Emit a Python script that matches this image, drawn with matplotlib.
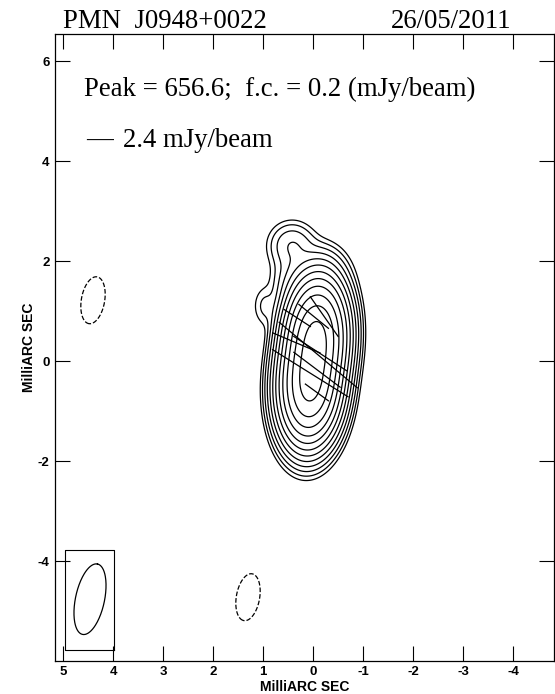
import numpy as np
import matplotlib
matplotlib.use("Agg")
import matplotlib.pyplot as plt

plt.rcParams["axes.unicode_minus"] = False

# map header values
source_name = "PMN  J0948+0022"
obs_date = "26/05/2011"
peak_flux = 656.6      # mJy/beam
first_contour = 0.2    # mJy/beam
n_levels = 12
vec_scale_label = "2.4 mJy/beam"

# brightness model: elliptical gaussian components (x, y in mas, RA to the left)
comp_x = [-0.06, 0.06, 0.42, -0.15, 0.97, 0.35]
comp_y = [0.45, -0.45, 2.32, 1.75, 1.10, 1.60]
comp_peak = [500.0, 500.0, 1.5, 1.0, 0.45, 1.3]
comp_sx = [0.25, 0.25, 0.25, 0.30, 0.14, 0.25]
comp_sy = [0.49, 0.49, 0.25, 0.30, 0.24, 0.35]
comp_pa = [-3, -3, 0, 0, 0, 0]

# negative (dashed) blobs
neg_x = [4.40, 1.30]
neg_y = [1.22, -4.72]
neg_peak = [-0.32, -0.32]

# polarisation vectors: centre, length (mas), EVPA (deg, N through E)
vec_x = [-0.225, -0.013, 0.316, -0.104, 0.332, 0.054, -0.143, -0.078, -0.08]
vec_y = [0.892, 0.898, 0.866, 0.125, 0.367, -0.239, 0.154, -0.624, -0.17]
vec_len = [0.97, 0.76, 0.63, 2.04, 1.03, 1.78, 1.26, 0.57, 1.16]
vec_pa = [35, 51, 57, 50, 67, 58, 57, 54, 53]

# restoring beam
beam_x, beam_y = 4.46, -4.76
beam_maj, beam_min, beam_pa = 1.44, 0.58, -12
beam_box = (3.99, 4.96, -5.78, -3.78)

xlim = (5.16, -4.82)
ylim = (-5.99, 6.54)


def gauss2d(X, Y, x0, y0, amp, sx, sy, pa):
    t = np.radians(pa)
    dx, dy = X - x0, Y - y0
    u = dx * np.sin(t) + dy * np.cos(t)
    v = dx * np.cos(t) - dy * np.sin(t)
    return amp * np.exp(-0.5 * ((u / sy) ** 2 + (v / sx) ** 2))


xs = np.linspace(xlim[0], xlim[1], 700)
ys = np.linspace(ylim[0], ylim[1], 880)
X, Y = np.meshgrid(xs, ys)
img = np.zeros_like(X)
for x0, y0, a, sx, sy, pa in zip(comp_x, comp_y, comp_peak, comp_sx, comp_sy, comp_pa):
    img += gauss2d(X, Y, x0, y0, a, sx, sy, pa)
for x0, y0, a in zip(neg_x, neg_y, neg_peak):
    img += gauss2d(X, Y, x0, y0, a, 0.24, 0.49, -10)

levels = [-first_contour] + [first_contour * 2 ** k for k in range(n_levels)]

fig = plt.figure(figsize=(5.55, 6.94), dpi=100)
ax = fig.add_axes([55 / 555, 33.3 / 694, 499 / 555, 626.4 / 694])
ax.contour(X, Y, img, levels=levels, colors="black", linewidths=0.9,
           negative_linestyles="dashed")

for x0, y0, ln, pa in zip(vec_x, vec_y, vec_len, vec_pa):
    t = np.radians(pa)
    ex, ey = 0.5 * ln * np.sin(t), 0.5 * ln * np.cos(t)
    ax.plot([x0 - ex, x0 + ex], [y0 - ey, y0 + ey], color="black", lw=0.9)

# beam box and ellipse
bx0, bx1, by0, by1 = beam_box
ax.plot([bx0, bx1, bx1, bx0, bx0], [by0, by0, by1, by1, by0], color="black", lw=0.8)
tt = np.linspace(0, 2 * np.pi, 200)
pr = np.radians(beam_pa)
ex = 0.5 * beam_maj * np.cos(tt) * np.sin(pr) + 0.5 * beam_min * np.sin(tt) * np.cos(pr)
ey = 0.5 * beam_maj * np.cos(tt) * np.cos(pr) - 0.5 * beam_min * np.sin(tt) * np.sin(pr)
ax.plot(beam_x + ex, beam_y + ey, color="black", lw=0.9)

ax.set_xlim(*xlim)
ax.set_ylim(*ylim)
ax.set_xticks(range(-4, 6))
ax.set_yticks(range(-4, 7, 2))
ax.tick_params(direction="in", length=10.5, width=0.8, top=True, right=True,
               labelsize=9.5, pad=4)
for lab in ax.get_xticklabels() + ax.get_yticklabels():
    lab.set_fontweight("bold")
    lab.set_family("Liberation Sans")
for s in ax.spines.values():
    s.set_linewidth(0.9)

ax.set_xlabel("MilliARC SEC", fontsize=10, fontweight="bold", family="Liberation Sans", labelpad=1)
ax.set_ylabel("MilliARC SEC", fontsize=10, fontweight="bold", family="Liberation Sans", labelpad=1)

serif = "Liberation Serif"
fs = 19.3
fig.text(63 / 555, 1 - 27.6 / 694, source_name, family=serif, fontsize=fs, va="baseline")
fig.text(511.5 / 555, 1 - 27.6 / 694, obs_date, family=serif, fontsize=fs, va="baseline", ha="right")
fig.text(84 / 555, 1 - 96 / 694,
         f"Peak = {peak_flux};  f.c. = {first_contour} (mJy/beam)",
         family=serif, fontsize=fs, va="baseline")
fig.text(86 / 555, 1 - 147 / 694, "\u2014", family=serif, fontsize=fs, va="baseline")
fig.text(123 / 555, 1 - 147 / 694, vec_scale_label, family=serif, fontsize=fs, va="baseline")

fig.savefig("out.png", dpi=100)
